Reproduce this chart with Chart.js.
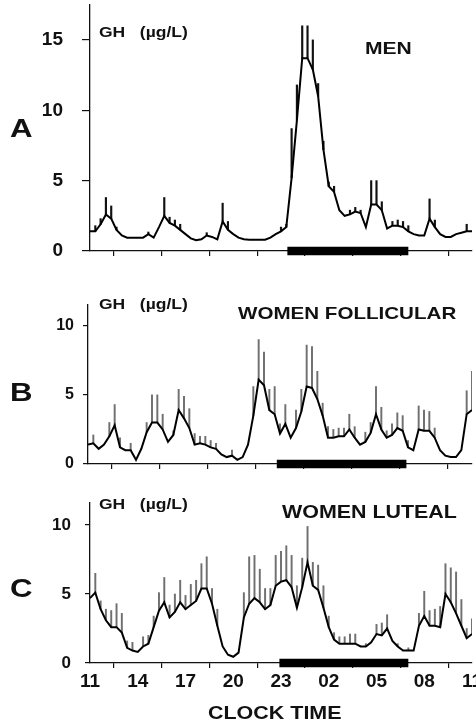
<!DOCTYPE html>
<html>
<head>
<meta charset="utf-8">
<script src="https://cdn.jsdelivr.net/npm/chart.js@4.4.1/dist/chart.umd.min.js"></script>
<style>
  html, body { margin: 0; padding: 0; background: #fff; width: 476px; height: 723px; overflow: hidden; }
  body { position: relative; }
  canvas { position: absolute; left: 0; }
  .lbl { position: absolute; font-family: 'Liberation Sans', Arial, sans-serif; font-weight: bold;
         line-height: 1; white-space: pre; transform-origin: 0 50%; color: #111; }
</style>
</head>
<body>
<canvas id="chartA" width="500" height="265" style="top:0px"></canvas>
<canvas id="chartB" width="500" height="185" style="top:290px"></canvas>
<canvas id="chartC" width="500" height="228" style="top:495px"></canvas>

<div class="lbl" style="left:10px;top:115px;font-size:26px;transform:scaleX(1.2)">A</div>
<div class="lbl" style="left:10px;top:379px;font-size:26px;transform:scaleX(1.2)">B</div>
<div class="lbl" style="left:10px;top:575px;font-size:26px;transform:scaleX(1.2)">C</div>

<div class="lbl" style="left:99px;top:25px;font-size:14px;transform:scaleX(1.25)">GH   (µg/L)</div>
<div class="lbl" style="left:99px;top:297px;font-size:14px;transform:scaleX(1.25)">GH   (µg/L)</div>
<div class="lbl" style="left:99px;top:497px;font-size:14px;transform:scaleX(1.25)">GH   (µg/L)</div>

<div class="lbl" style="left:365px;top:40px;font-size:17px;transform:scaleX(1.24)">MEN</div>
<div class="lbl" style="left:238px;top:305px;font-size:17px;transform:scaleX(1.21)">WOMEN FOLLICULAR</div>
<div class="lbl" style="left:282px;top:503px;font-size:18px;transform:scaleX(1.19)">WOMEN LUTEAL</div>
<div class="lbl" style="left:208px;top:703px;font-size:19px;transform:scaleX(1.13)">CLOCK TIME</div>

<script>
// 24-h GH profiles, one sample every 20 min from 11:00 to 11:00 (mean and SEM, µg/L)
const menGH = [1.4, 1.4, 1.9, 2.6, 2.3, 1.5, 1.1, 0.95, 0.95, 0.95,
  0.95, 1.2, 0.95, 1.7, 2.5, 2.0, 1.8, 1.5, 1.2, 0.9,
  0.76, 0.83, 1.1, 1.0, 0.83, 2.1, 1.5, 1.2, 0.95, 0.83,
  0.8, 0.8, 0.8, 0.8, 0.95, 1.2, 1.4, 1.7, 5.2, 9.3,
  13.7, 13.7, 12.9, 11.0, 7.2, 4.6, 4.2, 2.9, 2.5, 2.6,
  2.8, 2.7, 1.7, 3.3, 3.3, 2.9, 1.6, 1.8, 1.8, 1.7,
  1.4, 1.2, 1.1, 1.1, 2.3, 1.7, 1.2, 1.0, 1.0, 1.2,
  1.3, 1.4, 1.4];
const menSEM = [0, 0.4, 0.4, 1.2, 0.9, 0.2, 0, 0, 0, 0,
  0, 0.15, 0, 0, 1.3, 0.4, 0.4, 0.4, 0, 0,
  0, 0, 0.2, 0, 0, 1.3, 0.6, 0, 0, 0,
  0, 0, 0, 0, 0, 0, 0.3, 0.2, 3.5, 2.5,
  2.3, 2.3, 2.1, 0.9, 0.6, 0.3, 0.4, 0, 0, 0.3,
  0.3, 0.2, 0, 1.7, 1.7, 0.6, 0, 0.3, 0.4, 0.4,
  0.4, 0, 0, 0, 1.4, 0.5, 0, 0, 0, 0,
  0, 0.5, 0];

const follGH = [1.4, 1.5, 1.1, 1.4, 2.0, 2.8, 1.2, 1.0, 1.0, 0.3,
  1.1, 2.3, 3.0, 3.0, 2.5, 1.6, 2.1, 3.9, 3.3, 2.6,
  1.4, 1.5, 1.4, 1.2, 1.1, 0.7, 0.5, 0.6, 0.3, 0.5,
  1.4, 3.5, 6.1, 5.7, 3.9, 3.6, 2.2, 2.9, 1.9, 2.6,
  3.8, 5.6, 5.5, 4.7, 3.5, 1.9, 1.9, 2.0, 2.0, 2.5,
  1.9, 1.4, 1.6, 2.25, 3.6, 2.5, 1.9, 2.1, 2.6, 2.4,
  1.2, 1.0, 2.5, 2.4, 2.4, 1.9, 1.0, 0.6, 0.5, 0.5,
  1.0, 3.6, 3.9];
const follSEM = [0, 0.6, 0, 0, 1.0, 1.5, 0.7, 0, 0.5, 0,
  0, 0.7, 2.0, 2.0, 1.1, 0, 0.3, 1.5, 1.6, 1.4,
  0.8, 0.5, 0.6, 0.5, 0.4, 0, 0, 0.4, 0, 0,
  0, 2.1, 2.9, 2.4, 1.5, 2.0, 0.7, 1.4, 0, 1.3,
  1.6, 3.0, 3.0, 2.0, 0.9, 0.8, 0.6, 0.6, 0.6, 1.1,
  0.8, 0, 0.7, 0.75, 2.0, 1.6, 0.5, 0.8, 1.1, 1.1,
  0.5, 0, 1.7, 1.5, 1.4, 0.7, 0, 0, 0, 0,
  0, 1.7, 2.8];

const lutGH = [4.7, 5.1, 3.9, 3.1, 2.6, 2.6, 2.2, 1.1, 0.9, 0.8,
  1.2, 1.4, 2.6, 3.8, 4.4, 3.3, 3.7, 4.4, 3.9, 4.2,
  4.5, 5.4, 5.4, 4.3, 2.7, 1.2, 0.6, 0.45, 0.75, 3.3,
  4.3, 4.7, 4.4, 3.9, 4.2, 5.6, 5.9, 6.0, 5.5, 4.0,
  5.5, 7.3, 5.6, 5.3, 4.0, 2.6, 1.7, 1.4, 1.4, 1.4,
  1.4, 1.2, 1.2, 1.5, 2.1, 2.0, 2.5, 1.6, 1.2, 0.9,
  0.9, 0.9, 2.7, 3.4, 2.7, 2.7, 2.6, 5.0, 4.4, 3.6,
  2.7, 1.8, 2.1];
const lutSEM = [0, 1.4, 0.6, 0.8, 1.2, 1.7, 1.4, 0.5, 0.6, 0,
  0.7, 0.6, 0.8, 1.3, 1.8, 0.9, 1.3, 1.6, 1.0, 1.5,
  1.5, 1.8, 2.3, 1.1, 1.2, 0, 0, 0, 0, 1.8,
  3.4, 3.1, 2.4, 1.5, 1.2, 2.2, 2.2, 2.5, 2.3, 1.6,
  2.1, 2.6, 1.7, 1.8, 1.6, 0.8, 0.5, 0.5, 0.5, 0.7,
  0.7, 0, 0.2, 0, 0.7, 0.9, 1.0, 0, 0.2, 0,
  0.2, 0, 0.9, 1.8, 1.1, 1.2, 1.5, 2.2, 2.5, 3.0,
  1.9, 0.7, 1.1];

// sleep period (black bar), in hours from midnight of day 1
const menSleep = [23.4, 31.0];
const follSleep = [22.8, 30.9];
const lutSleep = [22.9, 31.0];

const tickHours = [11, 14, 17, 20, 23, 26, 29, 32, 35];
const clockTicks = ['11', '14', '17', '20', '23', '02', '05', '08', '11'];
const menTicks = [0, 5, 10, 15];
const womenTicks = [0, 5, 10];

const sampleHours = menGH.map((v, i) => 11 + i / 3);

Chart.defaults.font.family = "'Liberation Sans', Arial, sans-serif";
Chart.defaults.color = '#111';

function makePanel(id, gh, sem, sleep, yTicks, o) {
  const line = gh.map((v, i) => ({ x: sampleHours[i], y: v }));
  const bars = [];
  gh.forEach((v, i) => {
    if (sem[i] > 0) bars.push({ x: sampleHours[i], y: [v, v + sem[i]] });
  });

  return new Chart(document.getElementById(id), {
    type: 'line',
    data: {
      datasets: [
        { type: 'line', data: line, borderColor: '#000', borderWidth: 2, pointRadius: 0, tension: 0 },
        { type: 'bar', data: bars, backgroundColor: o.semColor, barThickness: o.semWidth,
          grouped: false, borderWidth: 0 },
        { type: 'line', data: sleep.map(h => ({ x: h, y: 0 })), borderColor: '#000', borderWidth: 8.5,
          pointRadius: 0, clip: false, borderCapStyle: 'butt' }
      ]
    },
    options: {
      responsive: false,
      animation: false,
      events: [],
      layout: { autoPadding: false, padding: { top: o.top, right: 28, left: 0, bottom: 0 } },
      plugins: { legend: { display: false }, tooltip: { enabled: false } },
      scales: {
        x: {
          type: 'linear', min: 11, max: 35, offset: false,
          afterBuildTicks: s => { s.ticks = tickHours.map(v => ({ value: v })); },
          afterFit: s => { s.height = o.xHeight; s.paddingLeft = 0; s.paddingRight = 0; },
          grid: { drawOnChartArea: false, drawTicks: true, tickLength: 5, color: '#111', lineWidth: 1.2 },
          border: { color: '#111', width: 1.3 },
          ticks: {
            display: o.xLabels, maxRotation: 0, autoSkip: false, padding: 2,
            font: { size: 19, weight: 'bold' },
            callback: (v, i) => clockTicks[i]
          }
        },
        y: {
          min: 0, max: o.yMax,
          afterBuildTicks: s => { s.ticks = yTicks.map(v => ({ value: v })); },
          afterFit: s => { s.width = o.yWidth; s.paddingTop = 0; s.paddingBottom = 0; },
          grid: { drawOnChartArea: false, drawTicks: true, tickLength: o.yTickLen, color: '#111', lineWidth: 1.2 },
          border: { color: '#111', width: 1.3 },
          ticks: { padding: o.yPad, font: { size: o.yFont, weight: 'bold' } }
        }
      }
    }
  });
}

makePanel('chartA', menGH, menSEM, menSleep, menTicks, {
  top: 5, yMax: 17.48, yWidth: 90, xHeight: 14, yTickLen: 8, yPad: 19, yFont: 19,
  semColor: '#111', semWidth: 1.5, xLabels: false
});
makePanel('chartB', follGH, follSEM, follSleep, womenTicks, {
  top: 15, yMax: 11.5, yWidth: 88, xHeight: 11, yTickLen: 5, yPad: 9, yFont: 16,
  semColor: '#707070', semWidth: 1.3, xLabels: false
});
makePanel('chartC', lutGH, lutSEM, lutSleep, womenTicks, {
  top: 8, yMax: 11.6, yWidth: 90, xHeight: 60, yTickLen: 5, yPad: 14, yFont: 17,
  semColor: '#707070', semWidth: 1.3, xLabels: true
});
</script>
</body>
</html>
